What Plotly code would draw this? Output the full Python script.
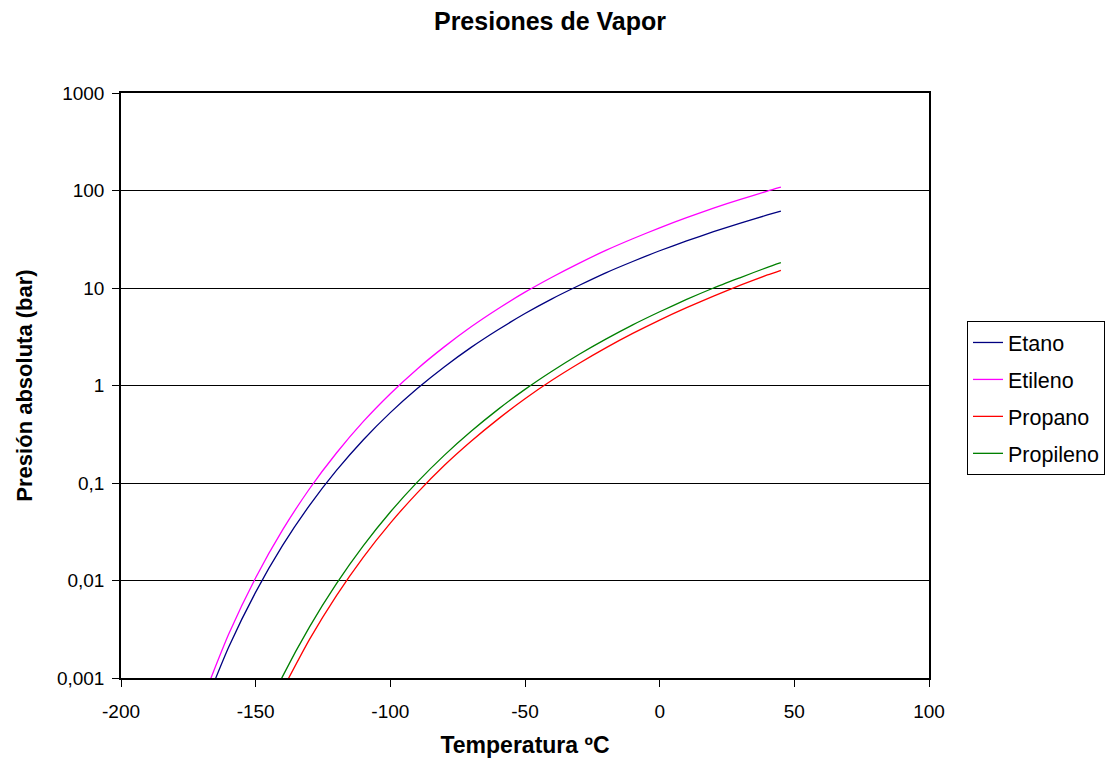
import plotly.graph_objects as go

# Data (temperature in ºC, pressure in bar)
t_etano = [-170, -160, -150, -140, -130, -120, -110, -100, -90, -80, -70, -60, -50,
           -40, -30, -20, -10, 0, 10, 20, 30, 40, 45]
p_etano = [0.00044, 0.00208, 0.0076, 0.0229, 0.059, 0.1346, 0.278, 0.527, 0.931, 1.55,
           2.46, 3.73, 5.47, 7.74, 10.6, 14.3, 18.7, 24.1, 30.4, 37.8, 46.3, 56.1, 61.4]

t_etileno = [-170, -160, -150, -140, -130, -120, -110, -100, -90, -80, -70, -60, -50,
             -40, -30, -20, -10, 0, 10, 20, 30, 40, 45]
p_etileno = [0.000575, 0.00282, 0.01067, 0.0330, 0.0873, 0.203, 0.428, 0.824, 1.48, 2.49,
             4.00, 6.13, 9.06, 12.9, 17.9, 24.3, 32.0, 41.4, 52.6, 65.9, 81.1, 98.7, 108]

t_propano = [-140, -130, -120, -110, -100, -90, -80, -70, -60, -50, -40, -30, -20,
             -10, 0, 10, 20, 30, 40, 45]
p_propano = [0.00076, 0.00249, 0.0070, 0.0174, 0.0388, 0.0793, 0.151, 0.268, 0.452, 0.730,
             1.13, 1.68, 2.43, 3.42, 4.69, 6.28, 8.26, 10.7, 13.6, 15.2]

t_propileno = [-150, -140, -130, -120, -110, -100, -90, -80, -70, -60, -50, -40, -30,
               -20, -10, 0, 10, 20, 30, 40, 45]
p_propileno = [0.000265, 0.00104, 0.00335, 0.00929, 0.0228, 0.0504, 0.102, 0.192, 0.339,
               0.569, 0.912, 1.40, 2.08, 2.99, 4.19, 5.71, 7.63, 10.0, 12.8, 16.3, 18.2]

y_tickvals = [0.001, 0.01, 0.1, 1, 10, 100, 1000]
y_ticktext = ["0,001", "0,01", "0,1", "1", "10", "100", "1000"]
x_tickvals = [-200, -150, -100, -50, 0, 50, 100]
x_ticktext = ["-200", "-150", "-100", "-50", "0", "50", "100"]

series = [
    ("Etano", t_etano, p_etano, "#000080"),
    ("Etileno", t_etileno, p_etileno, "#FF00FF"),
    ("Propano", t_propano, p_propano, "#FF0000"),
    ("Propileno", t_propileno, p_propileno, "#008000"),
]

FONT = "Liberation Sans, Arial, sans-serif"
W, H = 1108, 760

fig = go.Figure()
for i, (name, t, p, col) in enumerate(series):
    fig.add_trace(go.Scatter(x=t, y=p, mode="lines", name=name, legendgroup=f"g{i}",
                             line=dict(color=col, width=1.3, shape="spline", smoothing=0.6)))

fig.update_layout(
    width=W, height=H,
    paper_bgcolor="white", plot_bgcolor="white",
    margin=dict(l=121, r=179, t=93, b=82),
    font=dict(family=FONT, size=19, color="black"),
    title=dict(text="<b>Presiones de Vapor</b>", x=550 / W, xanchor="center",
               y=1 - 21 / H, yanchor="middle", font=dict(size=25, family=FONT)),
    legend=dict(xref="container", yref="container",
                x=967 / W, xanchor="left", y=1 - 398 / H, yanchor="middle",
                bordercolor="black", borderwidth=1, bgcolor="white",
                font=dict(size=21.5, family=FONT), itemwidth=30,
                tracegroupgap=6),
    showlegend=True,
)

fig.update_xaxes(
    range=[-200, 100], tickvals=x_tickvals, ticktext=x_ticktext, ticks="outside", ticklen=7,
    tickcolor="black", tickwidth=1, showline=True, linecolor="black", linewidth=1.5,
    mirror=True, showgrid=False, zeroline=False, ticklabelstandoff=8, automargin=False,
    tickfont=dict(size=19, family=FONT),
    title=dict(text="<b>Temperatura ºC</b>", font=dict(size=23, family=FONT), standoff=16),
)
fig.update_yaxes(
    type="log", range=[-3, 3], tickvals=y_tickvals, ticktext=y_ticktext,
    ticks="outside", ticklen=7, tickcolor="black", tickwidth=1,
    showline=True, linecolor="black", linewidth=1.5, mirror=True, automargin=False,
    showgrid=True, gridcolor="black", gridwidth=1, zeroline=False, ticklabelstandoff=4,
    tickfont=dict(size=19, family=FONT),
    title=dict(text="<b>Presión absoluta (bar)</b>", font=dict(size=22, family=FONT), standoff=18),
)

fig.write_html(
    "out.html",
    config={"displayModeBar": False},
    post_script="document.body.style.margin='0';document.body.style.overflow='hidden';",
)
